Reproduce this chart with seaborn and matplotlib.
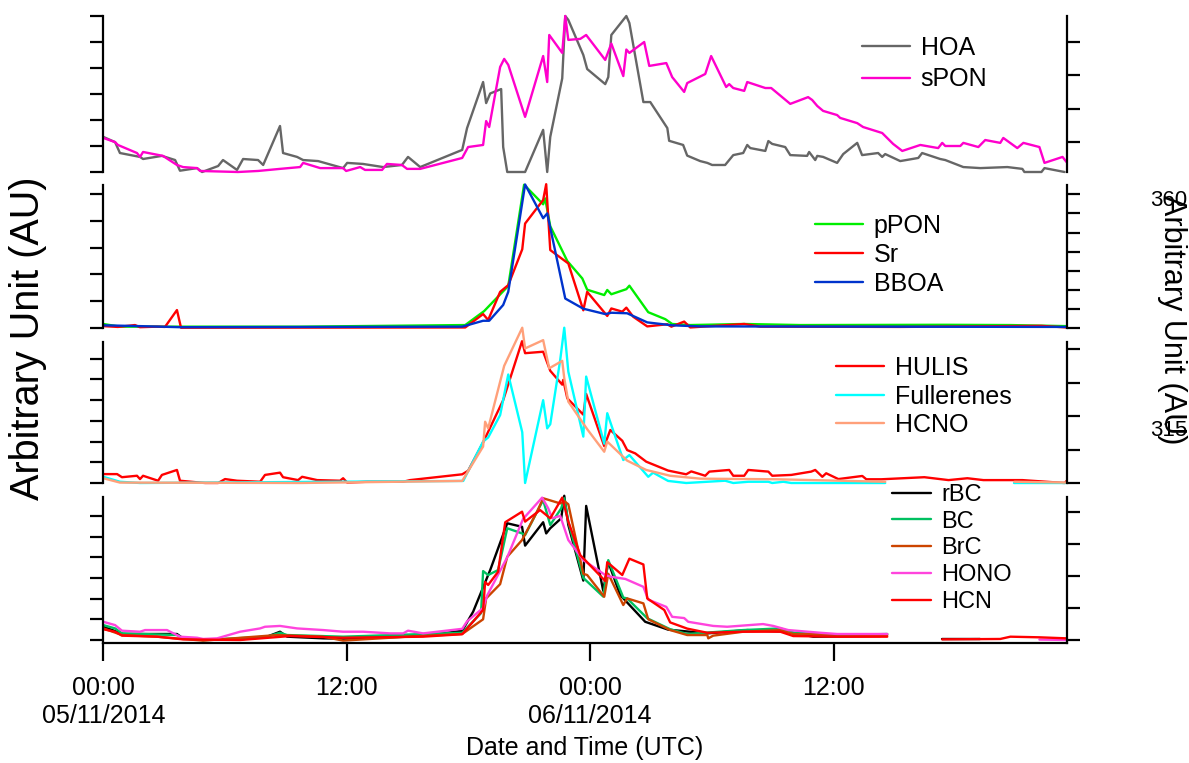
import numpy as np
import pandas as pd
import matplotlib
matplotlib.use("Agg")
import matplotlib.pyplot as plt
import seaborn as sns
from matplotlib.lines import Line2D

nan = np.nan

# ---------------- data (time in hours since 05/11/2014 00:00 UTC, arbitrary units) -------------
HOA_t = [0, 0.58, 0.82, 1.81, 1.96, 2.89, 3.54, 3.78, 4.62, 4.87,
         5.66, 5.9, 6.59, 6.89, 7.63, 7.88, 8.71, 8.86, 9.55, 9.85,
         10.59, 11.82, 12.02, 12.8, 13.79, 14.72, 15.02, 15.62, 17.69, 17.93,
         18.72, 18.87, 19.07, 19.61, 19.71, 19.91, 20.79, 21.68, 21.88, 22.03,
         22.62, 22.77, 22.92, 23.66, 23.85, 24.74, 24.89, 25.04, 25.78, 25.93,
         26.62, 26.96, 27.8, 27.89, 28.58, 28.78, 29.42, 29.77, 30.01, 30.65,
         31.05, 31.54, 31.74, 31.89, 32.63, 32.78, 32.97, 33.61, 33.86, 34.69,
         34.79, 35.09, 35.19, 35.48, 36.17, 36.47, 37.16, 37.4, 38.19, 38.39,
         38.54, 39.28, 40.17, 40.36, 41.25, 41.5, 42.39, 43.23, 44.56, 45.3,
         45.4, 46.24, 46.39, 47.38]
HOA_v = [1.35, 1.15, 0.73, 0.58, 0.5, 0.62, 0.46, 0.05, 0.15, 0.0,
         0.23, 0.46, 0.08, 0.5, 0.46, 0.27, 1.77, 0.73, 0.58, 0.46,
         0.42, 0.15, 0.35, 0.31, 0.19, 0.27, 0.58, 0.19, 0.85, 1.69,
         3.46, 2.65, 3.02, 3.19, 0.96, 0.0, 0.0, 1.62, 0.0, 1.35,
         3.6, 6.0, 5.85, 4.5, 3.96, 3.38, 3.65, 5.27, 6.0, 5.73,
         2.69, 2.69, 1.69, 1.2, 1.04, 0.63, 0.42, 0.35, 0.27, 0.27,
         0.65, 0.73, 1.04, 0.92, 0.81, 1.19, 1.08, 0.96, 0.65, 0.62,
         0.77, 0.46, 0.62, 0.58, 0.35, 0.69, 1.12, 0.65, 0.73, 0.58,
         0.69, 0.42, 0.54, 0.73, 0.5, 0.46, 0.19, 0.15, 0.19, 0.12,
         0.0, 0.0, 0.15, 0.0]

sPON_t = [0, 0.58, 0.72, 1.66, 1.81, 1.96, 2.94, 3.63, 3.93, 4.62,
          4.77, 6.64, 7.63, 8.71, 9.7, 9.85, 10.69, 11.82, 11.97, 12.66,
          12.9, 13.74, 13.98, 14.72, 14.97, 15.62, 17.69, 17.98, 18.72, 18.87,
          19.02, 19.56, 19.76, 19.96, 20.79, 21.68, 21.88, 21.98, 22.62, 22.77,
          22.92, 23.51, 23.8, 24.74, 25.04, 25.63, 25.78, 25.93, 26.66, 26.91,
          27.75, 28.04, 28.63, 28.78, 29.67, 29.96, 30.7, 30.85, 31.05, 31.59,
          31.74, 32.63, 32.92, 33.86, 34.74, 34.94, 35.19, 35.48, 36.17, 36.32,
          37.16, 37.45, 38.39, 38.93, 39.38, 40.27, 41.15, 41.35, 41.5, 42.24,
          42.39, 43.13, 43.47, 44.21, 44.36, 45.05, 45.35, 46.14, 46.39, 47.28,
          47.48]
sPON_v = [1.31, 1.15, 1.04, 0.73, 0.58, 0.77, 0.62, 0.27, 0.19, 0.15,
          0.04, 0.0, 0.04, 0.12, 0.19, 0.35, 0.15, 0.15, 0.04, 0.19,
          0.08, 0.08, 0.31, 0.27, 0.12, 0.12, 0.54, 0.96, 1.04, 1.96,
          1.73, 4.04, 4.35, 4.12, 2.12, 4.46, 3.46, 5.27, 4.58, 6.0,
          5.08, 5.12, 5.27, 4.31, 4.94, 3.69, 4.71, 4.58, 5.0, 4.08,
          4.19, 3.65, 3.08, 3.42, 3.77, 4.46, 3.27, 3.38, 3.23, 3.12,
          3.46, 3.23, 3.23, 2.62, 2.88, 2.77, 2.54, 2.35, 2.19, 2.08,
          1.88, 1.73, 1.5, 1.08, 0.81, 1.04, 0.92, 1.12, 1.0, 1.0,
          1.12, 0.96, 1.23, 1.12, 1.31, 0.92, 1.12, 0.96, 0.35, 0.58,
          0.38]

pPON_t = [0, 0.82, 9.7, 17.84, 18.77, 19.96, 20.74, 21.68, 21.78, 22.03,
          22.87, 23.61, 23.85, 24.69, 24.84, 25.04, 25.78, 25.93, 26.86, 27.7,
          28.04, 28.93, 31.59, 34.35, 41.45, 44.71, 47.48]
pPON_v = [0.15, 0.05, 0.05, 0.11, 0.63, 1.57, 5.35, 4.62, 4.84, 3.8,
          2.5, 1.85, 1.43, 1.23, 1.42, 1.26, 1.45, 1.58, 0.59, 0.33,
          0.15, 0.11, 0.15, 0.11, 0.12, 0.11, 0.07]

Sr_t = [0, 0.72, 1.56, 1.81, 2.65, 3.04, 3.63, 3.83, 17.84, 18.72,
        18.97, 19.56, 19.96, 20.65, 20.79, 21.68, 21.83, 22.03, 22.92, 23.66,
        23.85, 24.84, 25.04, 25.58, 25.78, 26.12, 26.81, 27.8, 28.0, 28.63,
        28.93, 31.59, 32.39, 39.28, 46.24, 47.48]
Sr_v = [0.07, 0.04, 0.11, 0.03, 0.05, 0.04, 0.67, 0.01, 0.02, 0.52,
        0.3, 1.35, 1.6, 2.94, 3.9, 4.78, 5.37, 2.91, 2.41, 0.66,
        1.35, 0.45, 0.73, 0.61, 0.76, 0.42, 0.06, 0.14, 0.05, 0.24,
        0.02, 0.15, 0.05, 0.04, 0.08, 0.02]

BBOA_t = [0, 1.81, 3.78, 17.69, 18.72, 19.02, 19.71, 19.96, 20.79, 21.68,
          21.88, 22.77, 23.66, 24.74, 25.04, 25.82, 26.81, 28.04, 29.42, 47.48]
BBOA_v = [0.1, 0.07, 0.03, 0.05, 0.27, 0.27, 0.86, 1.35, 5.36, 4.1,
          4.28, 1.1, 0.72, 0.52, 0.57, 0.55, 0.21, 0.1, 0.06, 0.04]

HULIS_t = [0, 0.68, 0.92, 1.66, 1.81, 1.96, 2.7, 2.89, 3.63, 3.78,
           4.77, 5.02, 5.66, 6.0, 6.59, 7.73, 7.97, 8.71, 8.86, 9.6,
           9.8, 10.54, 11.67, 11.82, 12.02, 13.0, 14.78, 15.12, 17.69, 17.98,
           18.72, 19.71, 20.64, 20.79, 21.68, 22.03, 22.62, 22.67, 22.87, 23.66,
           23.8, 24.69, 24.99, 25.58, 25.82, 26.22, 26.76, 27.84, 28.73, 28.98,
           29.67, 29.87, 30.85, 31.05, 31.59, 31.79, 32.78, 32.97, 33.91, 34.89,
           35.09, 35.44, 35.63, 36.23, 37.41, 37.61, 38.35, 40.47, 41.66, 42.59,
           43.38, 45.3, 47.38, 47.48]
HULIS_v = [0.43, 0.43, 0.28, 0.35, 0.19, 0.35, 0.11, 0.39, 0.63, 0.11,
           0.02, 0.0, 0.0, 0.19, 0.11, 0.06, 0.39, 0.5, 0.28, 0.14,
           0.3, 0.14, 0.11, 0.23, 0.02, 0.06, 0.06, 0.14, 0.42, 0.59,
           1.96, 4.0, 6.85, 6.27, 6.34, 5.42, 4.75, 4.98, 4.09, 3.3,
           4.3, 1.78, 2.56, 2.04, 1.59, 1.43, 1.03, 0.6, 0.42, 0.56,
           0.35, 0.55, 0.63, 0.35, 0.35, 0.63, 0.55, 0.35, 0.39, 0.55,
           0.63, 0.3, 0.47, 0.19, 0.34, 0.18, 0.18, 0.28, 0.14, 0.23,
           0.14, 0.14, 0.0, 0.1]

Fullerenes_t = [0, 0.82, 1.81, 17.74, 18.72, 18.97, 19.56, 19.96, 20.65, 20.79,
                21.68, 21.88, 22.03, 22.52, 22.72, 22.92, 23.66, 23.8, 24.69, 24.84,
                25.63, 25.93, 26.86, 27.1, 27.84, 28.73, 30.65, 31.05, 31.79, 32.78,
                32.97, 33.52, 33.91, 38.54, 41.0, 44.91, 47.48]
Fullerenes_v = [0.3, 0.06, 0.0, 0.1, 2.0, 2.2, 3.28, 5.24, 2.45, 0.0,
                4.0, 2.64, 2.84, 5.94, 7.5, 5.38, 2.24, 5.14, 1.9, 3.37,
                1.11, 1.35, 0.3, 0.5, 0.1, 0.0, 0.11, 0.0, 0.06, 0.06,
                0.0, 0.06, 0.0, 0.0, nan, 0.0, 0.0]

HCNO_t = [0, 0.82, 9.7, 17.69, 18.72, 18.82, 18.97, 19.76, 20.65, 20.79,
          21.68, 21.98, 22.62, 22.72, 22.92, 23.85, 24.69, 24.84, 25.82, 26.76,
          27.94, 29.42, 33.17, 38.54, 41.0, 44.91, 47.48]
HCNO_v = [0.23, 0.02, 0.0, 0.1, 1.76, 2.96, 2.64, 5.66, 7.5, 6.5,
          6.9, 5.54, 5.9, 5.06, 3.93, 2.6, 1.51, 2.0, 1.08, 0.63,
          0.35, 0.21, 0.18, 0.06, nan, 0.06, 0.02]

rBC_t = [0, 0.97, 3.63, 3.93, 4.92, 6.74, 8.07, 8.71, 9.06, 10.84,
         11.82, 14.98, 16.6, 17.69, 18.23, 19.07, 19.91, 20.64, 20.79, 21.68,
         21.83, 22.03, 22.57, 22.72, 22.92, 23.66, 23.8, 24.64, 24.89, 25.48,
         26.71, 27.84, 29.77, 31.74, 33.71, 34.99, 38.29, 39.5, 41.35, 43.23]
rBC_v = [0.64, 0.29, 0.29, 0.08, 0.0, 0.03, 0.16, 0.4, 0.16, 0.08,
         0.06, 0.16, 0.3, 0.45, 1.37, 3.38, 5.64, 5.47, 4.56, 5.69,
         5.15, 5.4, 5.88, 6.97, 5.56, 2.87, 6.48, 2.38, 3.77, 2.17,
         0.88, 0.5, 0.32, 0.48, 0.4, 0.16, 0.19, nan, 0.05, 0.05]

BC_t = [0, 0.58, 0.92, 3.63, 3.93, 4.92, 8.07, 8.71, 9.06, 11.82,
        17.69, 18.62, 18.72, 18.97, 19.46, 19.91, 20.64, 20.79, 21.38, 21.68,
        22.03, 22.57, 22.72, 22.92, 23.66, 24.64, 24.89, 25.63, 25.82, 26.81,
        27.94, 28.78, 31.54, 33.37, 34.01, 36.32, 38.64]
BC_v = [0.72, 0.56, 0.32, 0.24, 0.08, 0.0, 0.16, 0.35, 0.24, 0.16,
        0.35, 1.3, 3.33, 3.14, 3.38, 5.4, 5.15, 5.07, 6.2, 6.76,
        5.56, 6.36, 6.85, 5.72, 3.0, 2.1, 3.86, 2.05, 2.01, 1.05,
        0.52, 0.29, 0.48, 0.56, 0.35, 0.24, 0.29]

BrC_t = [0, 0.92, 2.65, 3.93, 4.92, 8.56, 10.84, 11.82, 14.98, 17.69,
         18.72, 18.87, 19.56, 19.91, 20.64, 21.38, 21.68, 22.52, 22.72, 22.92,
         23.66, 23.85, 24.69, 24.89, 25.63, 25.82, 26.62, 26.86, 27.94, 28.78,
         29.77, 29.82, 30.06, 31.54, 33.37, 34.01, 38.64]
BrC_v = [0.56, 0.24, 0.16, 0.05, -0.03, 0.24, 0.16, -0.03, 0.16, 0.29,
         1.0, 2.01, 2.7, 4.02, 4.83, 6.2, 6.85, 6.6, 6.71, 6.56,
         3.2, 3.14, 2.09, 3.2, 1.69, 2.01, 1.77, 1.0, 0.48, 0.24,
         0.24, 0.08, 0.21, 0.4, 0.48, 0.29, 0.24]

HONO_t = [0, 0.58, 0.92, 1.81, 2.06, 3.14, 3.78, 4.62, 4.92, 5.61,
          6.74, 7.73, 7.97, 8.71, 9.55, 10.84, 11.82, 12.8, 14.14, 14.78,
          15.02, 15.76, 17.69, 17.93, 18.72, 18.92, 19.91, 20.69, 21.63, 21.93,
          22.13, 22.52, 22.92, 23.66, 24.74, 24.99, 25.73, 26.62, 26.86, 27.75,
          28.04, 28.63, 28.83, 30.06, 30.75, 32.52, 33.02, 33.76, 35.34, 36.17,
          38.64, 40.0, 46.14, 47.48]
HONO_v = [0.88, 0.72, 0.45, 0.4, 0.48, 0.48, 0.16, 0.11, 0.05, 0.08,
          0.4, 0.56, 0.64, 0.68, 0.56, 0.48, 0.4, 0.4, 0.32, 0.32,
          0.45, 0.32, 0.54, 0.9, 1.55, 2.15, 4.0, 5.85, 6.88, 6.36,
          5.88, 6.0, 4.83, 3.86, 3.14, 3.06, 2.95, 2.57, 1.95, 1.6,
          1.12, 1.06, 0.88, 0.68, 0.64, 0.77, 0.68, 0.48, 0.35, 0.29,
          0.29, nan, 0.02, 0.0]

HCN_t = [0, 0.58, 0.92, 2.65, 3.93, 6.74, 9.2, 11.82, 15.76, 17.69,
         18.72, 18.82, 18.97, 19.46, 19.81, 20.64, 20.79, 21.53, 22.03, 22.62,
         22.92, 23.51, 23.66, 24.74, 24.84, 25.58, 25.93, 26.62, 26.81, 27.65,
         27.94, 28.78, 29.77, 31.54, 33.37, 34.01, 36.32, 38.64, 40.0, 41.35,
         44.21, 44.71, 46.14, 47.48]
HCN_v = [0.52, 0.4, 0.21, 0.16, 0.03, 0.0, 0.19, 0.11, 0.16, 0.28,
         1.45, 2.8, 2.66, 3.3, 5.69, 6.2, 5.72, 6.28, 5.88, 6.88,
         5.72, 4.1, 3.95, 2.85, 3.76, 3.14, 3.93, 3.65, 2.01, 1.45,
         0.85, 0.55, 0.35, 0.4, 0.4, 0.19, 0.16, 0.16, nan, 0.03,
         0.05, 0.16, 0.13, 0.08]

x_ticks = [0, 12, 24, 36]
x_ticklabels = ["00:00\n05/11/2014", "12:00", "00:00\n06/11/2014", "12:00"]

# ---------------- style ----------------
sns.set_style("ticks")
plt.rcParams["font.family"] = ["Liberation Sans", "DejaVu Sans"]
plt.rcParams["axes.edgecolor"] = "black"
plt.rcParams["text.color"] = "black"
plt.rcParams["xtick.color"] = "black"
plt.rcParams["ytick.color"] = "black"
plt.rcParams["xtick.labelcolor"] = "black"
plt.rcParams["axes.labelcolor"] = "black"

W, H = 1189, 763
X0, X1 = 103.3, 1067


def rect(top, bottom):
    return [X0 / W, 1 - bottom / H, (X1 - X0) / W, (bottom - top) / H]


def long_df(series):
    rows = []
    for name, t, v in series:
        seg = 0
        for ti, vi in zip(t, v):
            if np.isnan(vi):
                seg += 1
                continue
            rows.append((name, seg, ti, vi))
    return pd.DataFrame(rows, columns=["series", "seg", "t", "v"])


panels = [
    dict(top=16, bottom=172, ylim=(0, 6.0), yticks=range(0, 7),
         rylim=(0.1, 4.78), ryticks=[1, 2, 3, 4],
         series=[("HOA", HOA_t, HOA_v, "#666666"), ("sPON", sPON_t, sPON_v, "#ff00cc")],
         leg=(862, 36), fs=18, hl=1.9, ls=0.3),
    dict(top=185, bottom=328, ylim=(0, 5.34), yticks=range(0, 6),
         rylim=(0, 7.49), ryticks=range(0, 8),
         series=[("pPON", pPON_t, pPON_v, "#00ee00"), ("Sr", Sr_t, Sr_v, "#ff0000"),
                 ("BBOA", BBOA_t, BBOA_v, "#0033cc")],
         leg=(815, 214), fs=18, hl=1.9, ls=0.2),
    dict(top=342, bottom=483, ylim=(0, 6.81), yticks=range(0, 7),
         rylim=(0, 4.21), ryticks=range(0, 5),
         series=[("HULIS", HULIS_t, HULIS_v, "#ff0000"),
                 ("Fullerenes", Fullerenes_t, Fullerenes_v, "#00ffff"),
                 ("HCNO", HCNO_t, HCNO_v, "#ffa07a")],
         leg=(836, 356), fs=18, hl=1.9, ls=0.18),
    dict(top=497, bottom=643, ylim=(-0.145, 6.91), yticks=range(0, 7),
         rylim=(-0.094, 4.47), ryticks=range(0, 5),
         series=[("rBC", rBC_t, rBC_v, "#000000"), ("BC", BC_t, BC_v, "#00c060"),
                 ("BrC", BrC_t, BrC_v, "#cc4400"), ("HONO", HONO_t, HONO_v, "#ff44dd"),
                 ("HCN", HCN_t, HCN_v, "#ff0000")],
         leg=(892, 484), fs=17, hl=1.65, ls=0.2),
]

fig = plt.figure(figsize=(W / 100, H / 100), dpi=100)

for i, p in enumerate(panels):
    last = i == len(panels) - 1
    ax = fig.add_axes(rect(p["top"], p["bottom"]))
    ax.patch.set_alpha(0)
    df = long_df([(n, t, v) for n, t, v, c in p["series"]])
    pal = {n: c for n, t, v, c in p["series"]}
    order = [n for n, t, v, c in p["series"]]
    sns.lineplot(data=df, x="t", y="v", hue="series", hue_order=order, units="seg",
                 estimator=None, sort=False, palette=pal, legend=False, ax=ax,
                 linewidth=1.7, clip_on=False)
    ax.set_xlim(0, 47.5)
    ax.set_ylim(*p["ylim"])
    ax.set_yticks(list(p["yticks"]))
    ax.set_yticklabels([])
    ax.set_xlabel("")
    ax.set_ylabel("")
    for s in ["top", "right"]:
        ax.spines[s].set_visible(False)
    ax.spines["left"].set_linewidth(1.6)
    ax.tick_params(axis="y", direction="out", length=9.5, width=1.6, color="black")
    if last:
        ax.spines["bottom"].set_linewidth(1.6)
        ax.set_xticks(x_ticks)
        ax.set_xticklabels(x_ticklabels, fontsize=18, color="black")
        for lbl in ax.get_xticklabels():
            lbl.set_linespacing(1.18)
        ax.tick_params(axis="x", direction="out", length=13, width=1.6, pad=11, color="black")
    else:
        ax.spines["bottom"].set_visible(False)
        ax.tick_params(axis="x", bottom=False, labelbottom=False)

    tw = ax.twinx()
    tw.set_ylim(*p["rylim"])
    tw.set_yticks(list(p["ryticks"]))
    tw.set_yticklabels([])
    for s in ["top", "left", "bottom"]:
        tw.spines[s].set_visible(False)
    tw.spines["right"].set_linewidth(1.6)
    tw.tick_params(axis="y", direction="out", length=9.5, width=1.6, color="black")
    tw.tick_params(axis="x", bottom=False, labelbottom=False)

    handles = [Line2D([], [], color=c, lw=1.7) for n, t, v, c in p["series"]]
    leg = ax.legend(handles, order, loc="upper left",
                    bbox_to_anchor=(p["leg"][0] / W, 1 - p["leg"][1] / H),
                    bbox_transform=fig.transFigure, frameon=False, fontsize=p["fs"],
                    handlelength=p["hl"], handletextpad=0.45, labelspacing=p["ls"],
                    borderpad=0, borderaxespad=0)
    for txt in leg.get_texts():
        txt.set_color("black")

fig.text(585 / W, 1 - 748 / H, "Date and Time (UTC)", ha="center", va="center", fontsize=18)
fig.text(28 / W, 1 - 338 / H, "Arbitrary Unit (AU)", rotation=90, ha="center", va="center",
         fontsize=28.5)
fig.text(1150 / W, 1 - 200 / H, "360", ha="left", va="center", fontsize=16)
fig.text(1150 / W, 1 - 430 / H, "315", ha="left", va="center", fontsize=16)
fig.text(1172 / W, 1 - 320 / H, "Arbitrary Unit (AU)", rotation=-90, ha="center", va="center",
         fontsize=22)

fig.savefig("out.png", dpi=100)
